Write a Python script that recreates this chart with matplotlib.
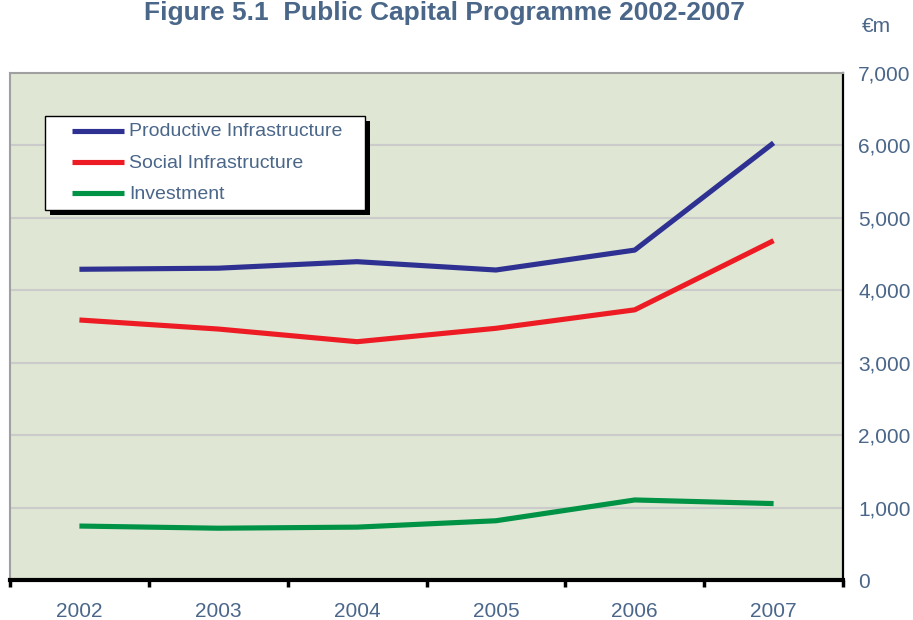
import matplotlib
matplotlib.use("Agg")
import matplotlib.pyplot as plt
from matplotlib.patches import Rectangle
from matplotlib.lines import Line2D

years = ["2002", "2003", "2004", "2005", "2006", "2007"]
productive = [4290, 4305, 4395, 4280, 4555, 6035]
social = [3590, 3465, 3290, 3475, 3730, 4685]
investment = [745, 715, 730, 818, 1105, 1055]
series_names = ["Productive Infrastructure", "Social Infrastructure", "Investment"]
yticks = [0, 1000, 2000, 3000, 4000, 5000, 6000, 7000]

colors = ["#2E3192", "#ED1C24", "#009245"]
text_color = "#4A6689"
plt.rcParams['font.family'] = ['Liberation Sans', 'DejaVu Sans']

W, H = 913, 620
fig = plt.figure(figsize=(W / 100, H / 100), dpi=100)
L, R, T, B = 10, 843, 73, 580
ax = fig.add_axes([L / W, 1 - B / H, (R - L) / W, (B - T) / H])
ax.set_facecolor("#DFE6D3")

x = list(range(len(years)))
for vals, c, name in zip([productive, social, investment], colors, series_names):
    ax.plot(x, vals, color=c, lw=3.7, solid_capstyle='butt', label=name, zorder=3)

ax.set_xlim(-0.5, len(years) - 0.5)
ax.set_ylim(0, 7000)
ax.set_yticks(yticks)
ax.set_yticklabels([f"{v:,}" for v in yticks])
ax.yaxis.tick_right()
ax.tick_params(axis='y', length=0, pad=11, labelsize=15, labelcolor=text_color)
for v in yticks[1:-1]:
    ax.axhline(v, color="#CBCBCB", lw=1.5, zorder=1)

ax.set_xticks(x)
ax.set_xticklabels(years)
ax.set_xticks([i - 0.5 for i in range(len(years) + 1)], minor=True)
ax.tick_params(axis='x', which='major', length=0, pad=16, labelsize=15, labelcolor=text_color)
ax.tick_params(axis='x', which='minor', length=5, width=2.5, color='black', direction='out')

ax.spines['bottom'].set_color('black')
ax.spines['bottom'].set_linewidth(3)
ax.spines['right'].set_color('black')
ax.spines['right'].set_linewidth(1.6)
ax.spines['top'].set_color('#A0A0A0')
ax.spines['top'].set_linewidth(1.5)
ax.spines['left'].set_color('#A0A0A0')
ax.spines['left'].set_linewidth(1.5)

# Legend (drawn manually to match box proportions)
def fx(px):
    return px / W

def fy(py):
    return 1 - py / H

bx0, bx1, by0, by1 = 45, 365, 116, 210
fig.patches.append(Rectangle((fx(bx0 + 5), fy(by1 + 5)), fx(bx1 - bx0), (by1 - by0) / H,
                             transform=fig.transFigure, facecolor='black', edgecolor='none', zorder=10))
fig.patches.append(Rectangle((fx(bx0), fy(by1)), fx(bx1 - bx0), (by1 - by0) / H,
                             transform=fig.transFigure, facecolor='white', edgecolor='black', lw=1.0, zorder=11))
for i, (c, name) in enumerate(zip(colors, series_names)):
    yy = 131 + i * 31
    fig.lines.append(Line2D([fx(72), fx(124)], [fy(yy), fy(yy)], transform=fig.transFigure,
                            color=c, lw=3.7, solid_capstyle='butt', zorder=12))
    fig.text(fx(129), fy(yy + 1), name, fontsize=14, color=text_color, va='center', ha='left', zorder=13)

fig.text(444 / W, fy(1), "Figure 5.1  Public Capital Programme 2002-2007", fontsize=19,
         fontweight='bold', color=text_color, ha='center', va='top')
fig.text(fx(862), fy(32), "€m", fontsize=15, color=text_color, ha='left', va='baseline')

fig.savefig("out.png", dpi=100)
